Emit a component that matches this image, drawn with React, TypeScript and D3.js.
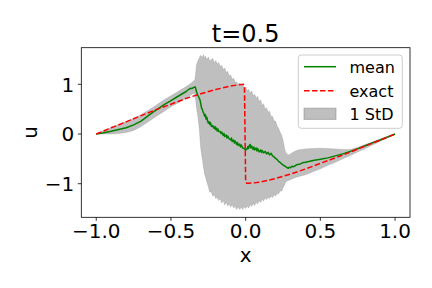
import React from "react";
import * as d3 from "d3";

// ---- data ----
const meanX = [-1, -0.95, -0.9, -0.85, -0.8, -0.75, -0.7, -0.66, -0.62, -0.58, -0.54, -0.5, -0.46, -0.43, -0.4, -0.38, -0.37, -0.36, -0.35, -0.34, -0.335, -0.33, -0.32, -0.31, -0.305, -0.3, -0.295, -0.29, -0.285, -0.28, -0.275, -0.27, -0.265, -0.26, -0.255, -0.25, -0.245, -0.24, -0.235, -0.23, -0.225, -0.22, -0.21, -0.205, -0.2, -0.195, -0.19, -0.185, -0.18, -0.17, -0.165, -0.16, -0.15, -0.145, -0.14, -0.13, -0.125, -0.12, -0.11, -0.1, -0.095, -0.09, -0.08, -0.075, -0.07, -0.06, -0.055, -0.05, -0.04, -0.035, -0.03, -0.02, -0.01, -0.005, 0, 0.005, 0.01, 0.015, 0.02, 0.025, 0.03, 0.035, 0.04, 0.05, 0.055, 0.06, 0.07, 0.075, 0.08, 0.09, 0.1, 0.105, 0.11, 0.12, 0.13, 0.14, 0.15, 0.16, 0.17, 0.18, 0.19, 0.2, 0.21, 0.22, 0.23, 0.24, 0.25, 0.26, 0.27, 0.28, 0.285, 0.29, 0.3, 0.31, 0.32, 0.34, 0.36, 0.38, 0.4, 0.43, 0.46, 0.5, 0.55, 0.6, 0.65, 0.7, 0.75, 0.8, 0.85, 0.9, 0.95, 1];
const meanU = [0, 0.025, 0.055, 0.09, 0.125, 0.185, 0.26, 0.35, 0.44, 0.52, 0.6, 0.67, 0.745, 0.8, 0.85, 0.9, 0.92, 0.915, 0.935, 0.95, 0.93, 0.86, 0.78, 0.72, 0.68, 0.6, 0.52, 0.5, 0.44, 0.42, 0.36, 0.39, 0.3, 0.34, 0.26, 0.22, 0.25, 0.19, 0.23, 0.16, 0.15, 0.17, 0.11, 0.15, 0.09, 0.12, 0.06, 0.1, 0.05, 0.05, 0.01, 0.04, -0.03, 0.01, -0.05, -0.02, -0.08, -0.04, -0.1, -0.12, -0.08, -0.15, -0.12, -0.18, -0.14, -0.21, -0.17, -0.23, -0.2, -0.26, -0.22, -0.28, -0.29, -0.31, -0.33, -0.3, -0.3, -0.25, -0.29, -0.23, -0.21, -0.28, -0.24, -0.31, -0.26, -0.32, -0.28, -0.34, -0.29, -0.36, -0.32, -0.37, -0.33, -0.38, -0.35, -0.4, -0.37, -0.42, -0.39, -0.44, -0.46, -0.49, -0.51, -0.55, -0.57, -0.6, -0.62, -0.64, -0.66, -0.68, -0.69, -0.67, -0.68, -0.65, -0.66, -0.62, -0.61, -0.58, -0.57, -0.55, -0.53, -0.51, -0.48, -0.44, -0.4, -0.35, -0.295, -0.235, -0.175, -0.12, -0.06, 0];

const exactX = [-1, -0.9, -0.8, -0.7, -0.6, -0.5, -0.4, -0.3, -0.2, -0.1, -0.05, -0.015, -0.008, -0.004, 0, 0.007, 0.02, 0.05, 0.1, 0.2, 0.3, 0.4, 0.5, 0.6, 0.7, 0.8, 0.9, 1];
const exactU = [0, 0.125, 0.245, 0.37, 0.49, 0.6, 0.715, 0.81, 0.895, 0.965, 0.99, 1.0, 0.97, 0.0, -0.95, -0.99, -0.99, -0.985, -0.965, -0.895, -0.805, -0.705, -0.59, -0.48, -0.365, -0.24, -0.125, 0];

const bandX = [-1, -0.95, -0.9, -0.85, -0.8, -0.75, -0.7, -0.65, -0.6, -0.55, -0.5, -0.45, -0.4, -0.37, -0.35, -0.34, -0.335, -0.33, -0.32, -0.31, -0.305, -0.3, -0.29, -0.283, -0.275, -0.27, -0.26, -0.25, -0.24, -0.23, -0.22, -0.21, -0.2, -0.19, -0.18, -0.17, -0.16, -0.15, -0.14, -0.13, -0.12, -0.11, -0.1, -0.09, -0.08, -0.07, -0.06, -0.05, -0.04, -0.03, -0.02, -0.01, 0, 0.01, 0.02, 0.03, 0.04, 0.05, 0.06, 0.07, 0.08, 0.09, 0.1, 0.11, 0.12, 0.13, 0.14, 0.15, 0.16, 0.17, 0.18, 0.19, 0.2, 0.21, 0.22, 0.23, 0.24, 0.25, 0.26, 0.265, 0.27, 0.28, 0.29, 0.3, 0.32, 0.35, 0.4, 0.45, 0.5, 0.55, 0.6, 0.65, 0.7, 0.75, 0.8, 0.85, 0.9, 0.95, 1];
const bandUpper = [0, 0.07, 0.13, 0.19, 0.25, 0.31, 0.39, 0.48, 0.58, 0.68, 0.77, 0.86, 0.95, 1.01, 1.06, 1.09, 1.2, 1.38, 1.47, 1.53, 1.57, 1.58, 1.53, 1.6, 1.52, 1.57, 1.49, 1.55, 1.47, 1.5, 1.52, 1.43, 1.48, 1.41, 1.44, 1.36, 1.38, 1.3, 1.33, 1.24, 1.26, 1.17, 1.19, 1.1, 1.12, 1.03, 1.05, 0.98, 1.02, 0.97, 0.99, 0.93, 0.95, 0.87, 0.9, 0.82, 0.87, 0.77, 0.8, 0.72, 0.76, 0.65, 0.69, 0.57, 0.61, 0.5, 0.53, 0.44, 0.46, 0.36, 0.35, 0.26, 0.26, 0.16, 0.12, 0.04, -0.02, -0.12, -0.28, -0.34, -0.38, -0.41, -0.42, -0.4, -0.36, -0.32, -0.3, -0.29, -0.285, -0.29, -0.3, -0.31, -0.31, -0.27, -0.21, -0.16, -0.1, -0.05, 0];
const bandLower = [0, 0.0, 0.0, 0.01, 0.03, 0.07, 0.15, 0.25, 0.35, 0.45, 0.55, 0.63, 0.72, 0.78, 0.82, 0.8, 0.7, 0.55, 0.35, 0.1, -0.12, -0.3, -0.5, -0.65, -0.8, -0.85, -0.96, -1.06, -1.17, -1.16, -1.25, -1.22, -1.3, -1.27, -1.34, -1.3, -1.39, -1.34, -1.43, -1.37, -1.45, -1.41, -1.47, -1.42, -1.49, -1.45, -1.52, -1.46, -1.52, -1.47, -1.52, -1.46, -1.5, -1.45, -1.49, -1.42, -1.46, -1.4, -1.44, -1.37, -1.41, -1.34, -1.38, -1.32, -1.35, -1.29, -1.32, -1.27, -1.3, -1.25, -1.28, -1.22, -1.25, -1.19, -1.21, -1.14, -1.15, -1.08, -1.03, -0.99, -0.96, -0.94, -0.93, -0.92, -0.89, -0.86, -0.82, -0.76, -0.7, -0.63, -0.57, -0.5, -0.43, -0.36, -0.29, -0.22, -0.15, -0.075, 0];

const xTicks = [-1.0, -0.5, 0.0, 0.5, 1.0];
const yTicks = [-1, 0, 1];
const legendLabels = ["mean", "exact", "1 StD"];
const title = "t=0.5";

const W = 432;
const H = 288;
const FONT = "DejaVu Sans, sans-serif";

function fmt(v: number, digits: number) {
  const s = Math.abs(v).toFixed(digits);
  return (v < 0 ? "\u2212" : "") + s;
}

export default function App() {
  const left = 81.3, right = 410, top = 47.7, bottom = 217.3;
  const x = d3.scaleLinear().domain([-1.1, 1.1]).range([left, right]);
  const y = d3.scaleLinear().domain([-1.676, 1.737]).range([bottom, top]);

  const meanData = meanX.map((v, i) => [v, meanU[i]] as [number, number]);
  const exactData = exactX.map((v, i) => [v, exactU[i]] as [number, number]);
  const bandData = bandX.map((v, i) => ({ x: v, lo: bandLower[i], hi: bandUpper[i] }));

  const line = d3.line<[number, number]>().x((d) => x(d[0])).y((d) => y(d[1]));
  const area = d3
    .area<{ x: number; lo: number; hi: number }>()
    .x((d) => x(d.x))
    .y0((d) => y(d.lo))
    .y1((d) => y(d.hi));

  const lx0 = 304, lx1 = 336, ltx = 349.5;
  const rows = [66.7, 90.7, 113.8];

  return (
    <svg width={W} height={H} style={{ position: "absolute", left: 0, top: 0 }} fontFamily={FONT}>
      <rect width={W} height={H} fill="white" />
      <path d={area(bandData) || ""} fill="#808080" fillOpacity={0.5} stroke="#808080" strokeOpacity={0.5} strokeWidth={0.5} />
      <path d={line(meanData) || ""} fill="none" stroke="#008000" strokeWidth={1.5} strokeLinejoin="round" />
      <path d={line(exactData) || ""} fill="none" stroke="#ff0000" strokeWidth={1.5} strokeDasharray="5.55,2.4" />
      <rect x={left} y={top} width={right - left} height={bottom - top} fill="none" stroke="black" strokeWidth={0.8} />
      {xTicks.map((t) => (
        <g key={"x" + t}>
          <line x1={x(t)} x2={x(t)} y1={bottom} y2={bottom + 3.5} stroke="black" strokeWidth={0.8} />
          <text x={x(t)} y={238.3} fontSize={20} textAnchor="middle" fill="black">{fmt(t, 1)}</text>
        </g>
      ))}
      {yTicks.map((t) => (
        <g key={"y" + t}>
          <line x1={left - 3.5} x2={left} y1={y(t)} y2={y(t)} stroke="black" strokeWidth={0.8} />
          <text x={74.3} y={y(t) + 7.2} fontSize={20} textAnchor="end" fill="black">{fmt(t, 0)}</text>
        </g>
      ))}
      <text x={(left + right) / 2} y={261.7} fontSize={20} textAnchor="middle">x</text>
      <text transform={`translate(37.3,${(top + bottom) / 2}) rotate(-90)`} fontSize={20} textAnchor="middle">u</text>
      <text x={(left + right) / 2} y={42.3} fontSize={24} textAnchor="middle">{title}</text>
      <g>
        <rect x={298.3} y={55} width={104} height={73.3} rx={3} fill="white" fillOpacity={0.8} stroke="#cccccc" strokeWidth={1} />
        <line x1={lx0} x2={lx1} y1={rows[0]} y2={rows[0]} stroke="#008000" strokeWidth={1.5} />
        <line x1={lx0} x2={lx1} y1={rows[1]} y2={rows[1]} stroke="#ff0000" strokeWidth={1.5} strokeDasharray="5.55,2.4" />
        <rect x={lx0} y={rows[2] - 5.6} width={lx1 - lx0} height={11.2} fill="#808080" fillOpacity={0.5} stroke="#808080" strokeOpacity={0.5} />
        {legendLabels.map((l, i) => (
          <text key={l} x={ltx} y={rows[i] + 5.8} fontSize={16}>{l}</text>
        ))}
      </g>
    </svg>
  );
}
